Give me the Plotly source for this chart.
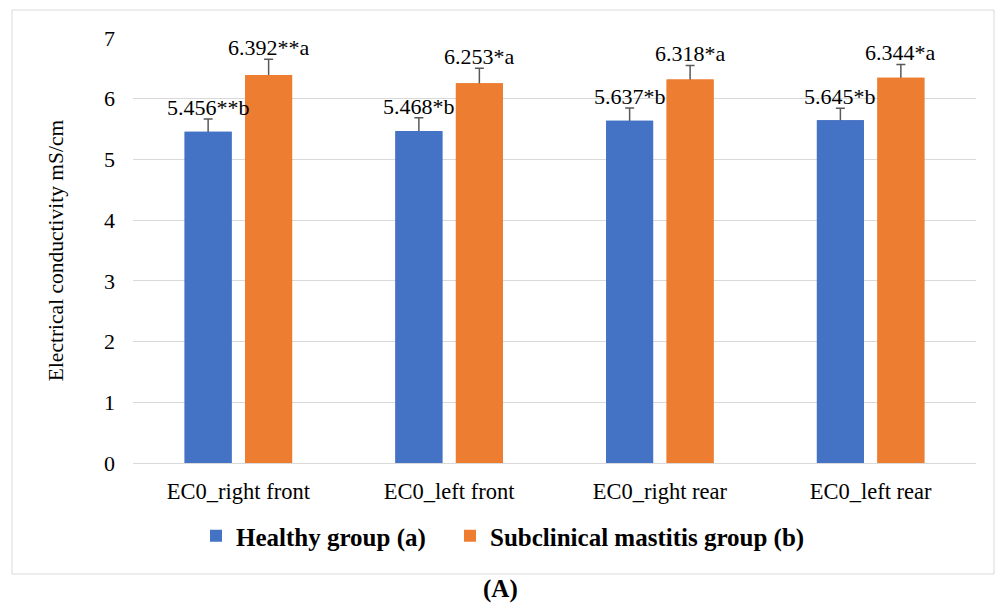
import plotly.graph_objects as go

# Electrical conductivity (EC0) per udder quarter
categories = ["EC0_right front", "EC0_left front", "EC0_right rear", "EC0_left rear"]
healthy = [5.456, 5.468, 5.637, 5.645]
mastitis = [6.392, 6.253, 6.318, 6.344]
healthy_err = [0.21, 0.22, 0.21, 0.20]
mastitis_err = [0.26, 0.25, 0.23, 0.22]
healthy_marks = ["**b", "*b", "*b", "*b"]
mastitis_marks = ["**a", "*a", "*a", "*a"]
y_ticks = [0, 1, 2, 3, 4, 5, 6, 7]

FONT = "Liberation Serif"
BLUE = "#4472C4"
ORANGE = "#ED7D31"
GRID = "#D9D9D9"
ERR = "#595959"

fig = go.Figure()
series = [
    ("Healthy group (a)", healthy, healthy_err, healthy_marks, BLUE, -1, "legend"),
    ("Subclinical mastitis group (b)", mastitis, mastitis_err, mastitis_marks, ORANGE, 1, "legend2"),
]

# lower layer: bars carrying the upward error bars (their lower end is tucked
# inside the bar and hidden by the upper layer)
for name, vals, errs, marks, color, side, leg in series:
    fig.add_trace(go.Bar(
        x=categories, y=vals, name=name, showlegend=False,
        marker=dict(color=color, line=dict(width=0)),
        error_y=dict(type="data", array=errs, arrayminus=[0.08] * len(errs),
                     symmetric=False, color=ERR, thickness=1.5, width=4.5),
        xaxis="x", yaxis="y", hoverinfo="skip",
    ))

# upper layer: the visible bars and the legend entries
for name, vals, errs, marks, color, side, leg in series:
    fig.add_trace(go.Bar(
        x=categories, y=vals, name=name, legend=leg,
        marker=dict(color=color, line=dict(width=0)),
        xaxis="x2", yaxis="y2",
    ))
    # value labels sit just above each error-bar cap
    for cat, v, e, m in zip(categories, vals, errs, marks):
        fig.add_annotation(
            x=cat, y=v + e, xref="x", yref="y",
            text=f"{v:.3f}{m}", showarrow=False,
            xanchor="center", yanchor="bottom",
            xshift=side * 30.3, yshift=-3,
            font=dict(family=FONT, size=22, color="black"),
        )

# plot geometry in px: plot area spans x 133..976, y 38..463
PX0, PX1, PY0, PY1 = 133, 976, 38, 463
W, H = PX1 - PX0, PY1 - PY0


def px_x(x):
    return (x - PX0) / W


def px_y(y):
    return (PY1 - y) / H


# outer chart frame
fig.add_shape(type="rect", xref="paper", yref="paper",
              x0=px_x(12), x1=px_x(994), y0=px_y(574), y1=px_y(10),
              line=dict(color=GRID, width=1), fillcolor="rgba(0,0,0,0)")

# panel caption
fig.add_annotation(x=px_x(500), y=px_y(589), xref="paper", yref="paper",
                   text="<b>(A)</b>", showarrow=False,
                   xanchor="center", yanchor="middle",
                   font=dict(family=FONT, size=25, color="black"))

legend_style = dict(orientation="h", xanchor="left", y=px_y(536), yanchor="middle",
                    font=dict(family=FONT, size=25, color="black", weight="bold"),
                    itemwidth=30, bgcolor="rgba(0,0,0,0)")

fig.update_layout(
    width=996, height=606,
    margin=dict(l=PX0, r=996 - PX1, t=PY0, b=606 - PY1, pad=0),
    paper_bgcolor="white", plot_bgcolor="white",
    barmode="group", bargap=0.426, bargroupgap=0.223,
    font=dict(family=FONT, size=22, color="black"),
    showlegend=True,
    legend=dict(x=px_x(196), **legend_style),
    legend2=dict(x=px_x(450), **legend_style),
    xaxis=dict(showgrid=False, showline=False, zeroline=False, ticks="",
               ticklabelstandoff=12, tickfont=dict(size=22.5)),
    yaxis=dict(range=[0, 7], tickvals=y_ticks, showgrid=True, gridcolor=GRID,
               gridwidth=1, zeroline=True, zerolinecolor=GRID, zerolinewidth=1,
               showline=False, ticks="", ticklabelstandoff=17,
               tickfont=dict(size=22),
               title=dict(text="Electrical conductivity mS/cm",
                          font=dict(family=FONT, size=21.5), standoff=34)),
    xaxis2=dict(overlaying="x", matches="x", visible=False),
    yaxis2=dict(overlaying="y", matches="y", visible=False),
)

fig.write_html("out.html")
